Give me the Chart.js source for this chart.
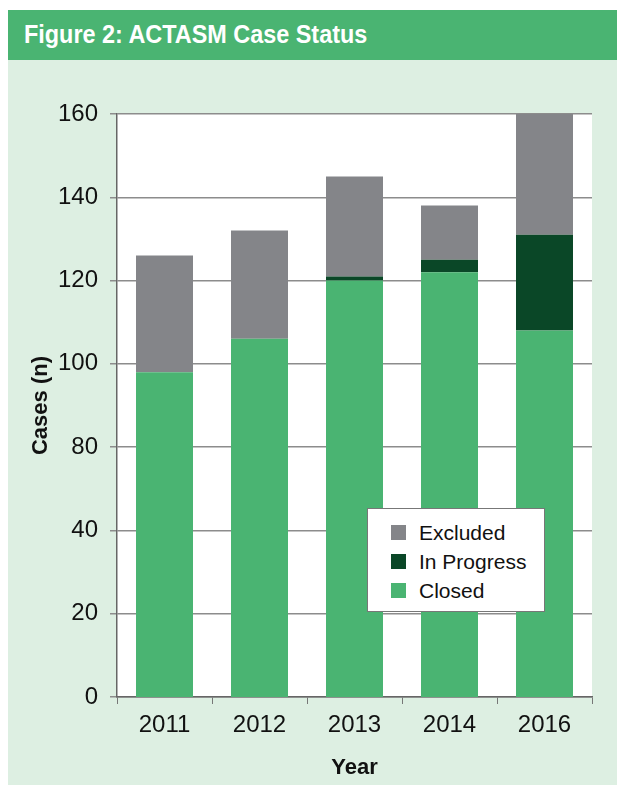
<!DOCTYPE html>
<html>
<head>
<meta charset="utf-8">
<script src="https://cdn.jsdelivr.net/npm/chart.js@4"></script>
<style>
  body { margin: 0; background: #fff; font-family: "Liberation Sans", Arial, sans-serif; }
  #page { position: relative; width: 617px; height: 790px; }
  #header {
    position: absolute; left: 8px; top: 10px; width: 609px; height: 50px;
    background: #4ab472; color: #fff; font-weight: bold; font-size: 26px;
  }
  #header span { position: absolute; left: 16px; top: 9px; transform: scaleX(0.9); transform-origin: left; white-space: nowrap; }
  #panel { position: absolute; left: 8px; top: 60px; width: 609px; height: 725px; background: #ddefe2; }
  #legend {
    position: absolute; left: 367px; top: 508px; width: 176px; height: 102px;
    background: #fff; border: 1px solid #777; font-size: 21px; color: #111;
  }
  .item { position: absolute; left: 23px; height: 24px; line-height: 24px; white-space: nowrap; }
  .item i { position: absolute; left: 0; top: 4px; width: 15px; height: 15px; }
  .item b { position: absolute; left: 28px; font-weight: normal; }
</style>
</head>
<body>
<div id="page">
  <div id="header"><span>Figure 2: ACTASM Case Status</span></div>
  <div id="panel"><canvas id="chart" width="609" height="725"></canvas></div>
  <div id="legend"></div>
</div>
<script>
// Data
const years = ['2011', '2012', '2013', '2014', '2016'];
const closed = [98, 106, 120, 122, 108];
const inProgress = [0, 0, 1, 3, 23];
const excluded = [28, 26, 24, 13, 29];
// the original axis labels skip 60 (bottom gridline is labelled 0)
const yTickLabels = ['0', '20', '40', '80', '100', '120', '140', '160'];

const GREEN = '#4ab472';
const DARK = '#0a4727';
const GREY = '#848589';

const datasets = [
    { label: 'Closed', data: closed, backgroundColor: GREEN },
    { label: 'In Progress', data: inProgress, backgroundColor: DARK },
    { label: 'Excluded', data: excluded, backgroundColor: GREY }
];

// white plot background
const plotBg = {
    id: 'plotBg',
    beforeDraw(chart) {
        const { ctx, chartArea: a } = chart;
        ctx.save();
        ctx.fillStyle = '#fff';
        ctx.fillRect(a.left, a.top, a.right - a.left, a.bottom - a.top);
        ctx.restore();
    }
};

Chart.defaults.font.family = '"Liberation Sans", Arial, sans-serif';
Chart.defaults.color = '#111';

new Chart(document.getElementById('chart').getContext('2d'), {
    type: 'bar',
    data: {
        labels: years,
        datasets: datasets.map(d => ({
            ...d,
            barPercentage: 0.6,
            categoryPercentage: 1,
            borderWidth: 0
        }))
    },
    options: {
        responsive: false,
        animation: false,
        layout: { padding: { top: 54, right: 25, left: 0, bottom: 0 } },
        plugins: { legend: { display: false }, tooltip: { enabled: false } },
        scales: {
            x: {
                stacked: true,
                grid: { drawOnChartArea: false, offset: true, tickLength: 7, color: '#777', lineWidth: 1 },
                border: { color: '#666', width: 1.5 },
                ticks: { font: { size: 24 }, padding: 7 },
                title: { display: true, text: 'Year', font: { size: 22, weight: 'bold' }, padding: { top: 10 } },
                afterFit(scale) { scale.height = 88; }
            },
            y: {
                stacked: true,
                min: 20,
                max: 160,
                grid: { color: '#8c8c8c', lineWidth: 1.5, tickLength: 7 },
                border: { color: '#666', width: 1.5 },
                ticks: {
                    stepSize: 20,
                    font: { size: 24 },
                    padding: 12,
                    callback: (value, index) => yTickLabels[index]
                },
                title: { display: true, text: 'Cases (n)', font: { size: 22, weight: 'bold' }, padding: { top: 20 } },
                afterFit(scale) { scale.width = 109; }
            }
        }
    },
    plugins: [plotBg]
});

// legend (reverse order, as in the figure)
const legend = document.getElementById('legend');
datasets.slice().reverse().forEach((d, i) => {
    const row = document.createElement('div');
    row.className = 'item';
    row.style.top = (12 + i * 29) + 'px';
    row.innerHTML = '<i style="background:' + d.backgroundColor + '"></i><b>' + d.label + '</b>';
    legend.appendChild(row);
});
</script>
</body>
</html>
